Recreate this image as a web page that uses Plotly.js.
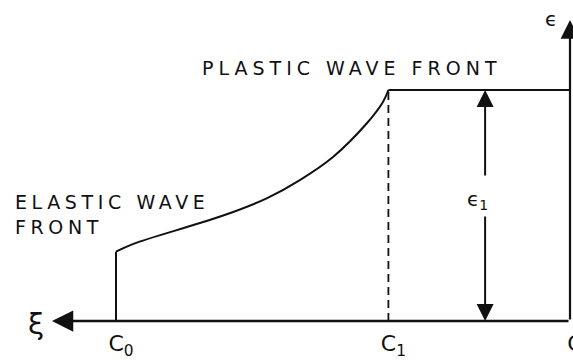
<!DOCTYPE html>
<html>
<head>
<meta charset="utf-8">
<script src="https://cdn.plot.ly/plotly-3.0.1.min.js"></script>
<style>
  html, body { margin: 0; padding: 0; background: #fff; }
  #chart { width: 573px; height: 360px; }
  /* wide hand-lettered look for the two wave-front captions */
  .annotation[data-index="0"] .annotation-text { letter-spacing: 5px; }
  .annotation[data-index="1"] .annotation-text { letter-spacing: 4.6px; }
</style>
</head>
<body>
<div id="chart"></div>
<script>
// Strain profile along ξ: elastic front at c0, plastic front at c1
const tickPositions = [1.0, 0.40, 0.0];
const tickLabels = ['C<sub>0</sub>', 'C<sub>1</sub>', 'C'];

// elastic jump at c0
const jumpXi = [1.0, 1.0];
const jumpEps = [0.0, 0.30];

// rising strain between the two fronts
const curveXi = [1.0, 0.963, 0.815, 0.742, 0.667, 0.595, 0.522, 0.447, 0.412, 0.40];
const curveEps = [0.30, 0.333, 0.424, 0.472, 0.532, 0.61, 0.71, 0.857, 0.948, 1.0];

// plateau at ε1 behind the plastic front
const plateauXi = [0.40, 0.0];
const plateauEps = [1.0, 1.0];

// dashed marker at c1
const c1Xi = [0.40, 0.40];
const c1Eps = [0.0, 1.0];

const eps1 = 1.0;
const eps1Xi = 0.187;

const ink = '#111';
const lineStyle = { color: ink, width: 2 };

const traces = [
  { x: jumpXi, y: jumpEps, mode: 'lines', line: lineStyle, hoverinfo: 'skip' },
  { x: curveXi, y: curveEps, mode: 'lines', line: Object.assign({ shape: 'spline', smoothing: 1 }, lineStyle), hoverinfo: 'skip' },
  { x: plateauXi, y: plateauEps, mode: 'lines', line: lineStyle, hoverinfo: 'skip' },
  { x: c1Xi, y: c1Eps, mode: 'lines', line: { color: ink, width: 1.8, dash: '8px,5px' }, hoverinfo: 'skip' }
];

const font = { family: 'DejaVu Sans, sans-serif', color: ink };

function arrow(x, y, ax, ay, w) {
  return {
    x: x, y: y, ax: ax, ay: ay, xref: 'x', yref: 'y', axref: 'x', ayref: 'y',
    text: '', showarrow: true, arrowhead: 2, arrowsize: 1.7, arrowwidth: w || 2, arrowcolor: ink
  };
}

const layout = {
  width: 573, height: 360,
  margin: { l: 0, r: 0, t: 0, b: 39 },
  paper_bgcolor: '#fff', plot_bgcolor: '#fff',
  showlegend: false,
  xaxis: {
    range: [1.2555, -0.0066],
    showgrid: false, zeroline: false, showline: false, ticks: '',
    tickvals: tickPositions, ticktext: tickLabels,
    tickfont: { family: font.family, size: 22, color: ink },
    ticklabelstandoff: 7, ticklabelshift: -5, ticklabeloverflow: 'allow',
    fixedrange: true
  },
  yaxis: {
    range: [0, 1.3896],
    showgrid: false, zeroline: false, showline: false, showticklabels: false, ticks: '',
    fixedrange: true
  },
  annotations: [
    { text: 'PLASTIC WAVE FRONT', xref: 'paper', yref: 'paper', x: 352 / 573, y: 1 - 68 / 321,
      xanchor: 'center', yanchor: 'middle', showarrow: false, font: Object.assign({ size: 19 }, font) },
    { text: 'ELASTIC WAVE<br>FRONT', xref: 'paper', yref: 'paper', x: 13 / 573, y: 1 - 214 / 321,
      xanchor: 'left', yanchor: 'middle', align: 'left', showarrow: false,
      font: Object.assign({ size: 19 }, font) },
    { text: 'ξ', xref: 'paper', yref: 'paper', x: 36 / 573, y: 1 - 324 / 321,
      xanchor: 'center', yanchor: 'middle', showarrow: false, font: Object.assign({ size: 29 }, font) },
    { text: 'ϵ', xref: 'paper', yref: 'paper', x: 551 / 573, y: 1 - 19 / 321,
      xanchor: 'center', yanchor: 'middle', showarrow: false, font: Object.assign({ size: 20 }, font) },
    { text: 'ϵ<sub>1</sub>', xref: 'x', yref: 'y', x: 0.203, y: 0.524,
      xanchor: 'center', yanchor: 'middle', showarrow: false, font: Object.assign({ size: 20 }, font) },
    // ξ axis pointing left, ε axis pointing up
    arrow(1.141, 0, 0, 0, 2.5),
    arrow(0, 1.303, 0, 0, 2.2),
    // ε1 span arrows
    arrow(eps1Xi, eps1, eps1Xi, 0.623),
    arrow(eps1Xi, 0, eps1Xi, 0.459)
  ]
};

Plotly.newPlot('chart', traces, layout, { displayModeBar: false, staticPlot: true });
</script>
</body>
</html>
